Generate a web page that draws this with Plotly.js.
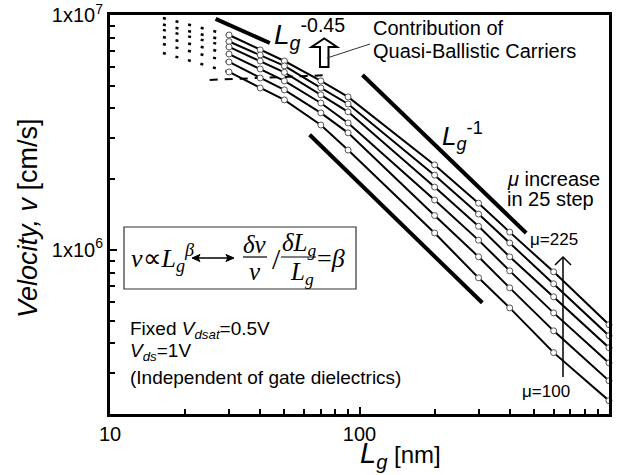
<!DOCTYPE html>
<html>
<head>
<meta charset="utf-8">
<script src="https://cdn.plot.ly/plotly-3.0.1.min.js"></script>
<style>html,body{margin:0;padding:0;background:#fff;}#chart{width:629px;height:475px;}</style>
</head>
<body>
<div id="chart"></div>
<script>
// ---- data ----
const Lg = [30, 40, 50, 70, 90, 200, 300, 400, 600, 1000];
const v_mu225 = [8.22e6, 7.10e6, 6.37e6, 5.24e6, 4.48e6, 2.30e6, 1.58e6, 1.19e6, 8.06e5, 4.80e5];
const v_mu200 = [7.71e6, 6.76e6, 6.07e6, 4.89e6, 4.18e6, 2.08e6, 1.42e6, 1.07e6, 7.17e5, 4.31e5];
const v_mu175 = [7.31e6, 6.37e6, 5.70e6, 4.57e6, 3.87e6, 1.85e6, 1.26e6, 9.34e5, 6.31e5, 3.83e5];
const v_mu150 = [6.82e6, 5.89e6, 5.24e6, 4.22e6, 3.47e6, 1.63e6, 1.10e6, 8.14e5, 5.39e5, 3.30e5];
const v_mu125 = [6.31e6, 5.39e6, 4.80e6, 3.83e6, 3.15e6, 1.40e6, 9.34e5, 6.89e5, 4.52e5, 2.77e5];
const v_mu100 = [5.72e6, 4.89e6, 4.35e6, 3.40e6, 2.66e6, 1.18e6, 7.60e5, 5.66e5, 3.65e5, 2.28e5];
const series = [v_mu225, v_mu200, v_mu175, v_mu150, v_mu125, v_mu100];

// dotted extrapolation toward short gate length (left end value per curve)
const dotL = [16.3, 30];
const dotLeftV = [9.71e6, 9.11e6, 8.64e6, 8.06e6, 7.53e6, 6.89e6];

// guide lines
const g045_L = [26.5, 43.7];  const g045_v = [9.62e6, 7.60e6];
const g1a_L = [102.8, 465.6]; const g1a_v = [5.55e6, 1.18e6];
const g1b_L = [63.1, 310.5];  const g1b_v = [3.09e6, 5.95e5];
const dash_L = [25.1, 75.9];  const dash_v = [5.29e6, 5.55e6];

const xTickVals = [10, 100, 1000];
const xTickText = ['10', '100', '1000'];
const xMinor = [20,30,40,50,60,70,80,90,200,300,400,500,600,700,800,900];
const yTickVals = [1e6, 1e7];
const yTickText = ['1x10<sup>6</sup>', '1x10<sup>7</sup>'];
const yMinor = [3e5,4e5,5e5,6e5,7e5,8e5,9e5,2e6,3e6,4e6,5e6,6e6,7e6,8e6,9e6];

// ---- helpers: pixel -> paper ----
const L0 = 110, R0 = 609, T0 = 15, B0 = 414;
const PX = x => (x - L0) / (R0 - L0);
const PY = y => (B0 - y) / (B0 - T0);
const SANS = 'Liberation Sans, Arial, sans-serif';
const SERIF = 'Liberation Serif, Times New Roman, serif';

const traces = [];
function guide(x, y, w, dash) {
  traces.push({x: x, y: y, mode: 'lines', line: {color: 'black', width: w, dash: dash || 'solid'}, hoverinfo: 'skip', cliponaxis: false});
}
guide(g045_L, g045_v, 4);
guide(g1a_L, g1a_v, 4);
guide(g1b_L, g1b_v, 4);
guide(dash_L, dash_v, 2, '8px,7px');
series.forEach((s, i) => {
  traces.push({x: dotL, y: [dotLeftV[i], s[0]], mode: 'lines',
    line: {color: 'black', width: 2.5, dash: '3px,10px'}, hoverinfo: 'skip', cliponaxis: false});
});
series.forEach(s => {
  traces.push({x: Lg, y: s, mode: 'lines+markers', cliponaxis: false,
    line: {color: 'black', width: 2},
    marker: {symbol: 'circle', size: 6, color: 'white', line: {color: '#555', width: 1}}});
});

function ann(text, x, y, o) {
  return Object.assign({text: text, xref: 'paper', yref: 'paper', x: PX(x), y: PY(y),
    xanchor: 'left', yanchor: 'middle', showarrow: false, borderpad: 0,
    font: {family: SANS, size: 20, color: 'black'}}, o || {});
}
const annotations = [
  ann('<i>Velocity, v</i> [cm/s]', 28, 218, {xanchor: 'center', textangle: -90, font: {family: SANS, size: 27, color: 'black'}}),
  ann('<i>L</i><sub><i>g</i></sub><span style="font-size:24px"> [nm]</span>', 400, 455, {xanchor: 'center', font: {family: SANS, size: 29, color: 'black'}}),
  ann('<i>L</i><sub><i>g</i></sub><sup>-0.45</sup>', 273, 34, {font: {family: SANS, size: 28, color: 'black'}}),
  ann('Contribution of', 372, 28),
  ann('Quasi-Ballistic Carriers', 372, 51),
  ann('<i>L</i><sub><i>g</i></sub><sup>-1</sup>', 441, 136, {font: {family: SANS, size: 26, color: 'black'}}),
  ann('<i>μ</i> increase', 506, 179),
  ann('in 25 step', 506, 199),
  ann('μ=225', 529, 239, {font: {family: SANS, size: 17, color: 'black'}}),
  ann('μ=100', 521, 391, {font: {family: SANS, size: 17, color: 'black'}}),
  ann('Fixed <i>V</i><sub><i>dsat</i></sub>=0.5V', 129, 330, {font: {family: SANS, size: 19, color: 'black'}}),
  ann('<i>V</i><sub><i>ds</i></sub>=1V', 129, 352, {font: {family: SANS, size: 19, color: 'black'}}),
  ann('(Independent of gate dielectrics)', 129, 377, {font: {family: SANS, size: 19, color: 'black'}}),
  // formula
  ann('<i>v</i>∝<i>L</i><sub><i>g</i></sub><sup><i>β</i></sup>', 130, 258, {font: {family: SERIF, size: 26, color: 'black'}}),
  ann('<i>δv</i>', 255, 244, {xanchor: 'center', font: {family: SERIF, size: 25, color: 'black'}}),
  ann('<i>v</i>', 255, 271, {xanchor: 'center', font: {family: SERIF, size: 25, color: 'black'}}),
  ann('/', 276, 258, {xanchor: 'center', font: {family: SERIF, size: 30, color: 'black'}}),
  ann('<i>δL</i><sub><i>g</i></sub>', 299, 244, {xanchor: 'center', font: {family: SERIF, size: 25, color: 'black'}}),
  ann('<i>L</i><sub><i>g</i></sub>', 302, 273, {xanchor: 'center', font: {family: SERIF, size: 25, color: 'black'}}),
  ann('=<i>β</i>', 316, 258, {font: {family: SERIF, size: 26, color: 'black'}})
];

function pth(pts, close) {
  return pts.map((p, i) => (i ? 'L' : 'M') + PX(p[0]).toFixed(5) + ',' + PY(p[1]).toFixed(5)).join(' ') + (close ? ' Z' : '');
}
function pline(x0, y0, x1, y1, w, c) {
  return {type: 'line', xref: 'paper', yref: 'paper', x0: PX(x0), y0: PY(y0), x1: PX(x1), y1: PY(y1), line: {color: c || 'black', width: w}};
}
const shapes = [
  // hollow arrow
  {type: 'path', xref: 'paper', yref: 'paper', fillcolor: 'white', line: {color: 'black', width: 2},
   path: pth([[320,67],[320,47],[311.5,47],[324.3,38.5],[337,47],[328.5,47],[328.5,67]], true)},
  pline(327, 58, 370, 44, 1, '#333'),
  // vertical mobility arrow
  pline(563, 377, 563, 257.5, 1.5),
  {type: 'path', xref: 'paper', yref: 'paper', line: {color: 'black', width: 1.5},
   path: pth([[555,265],[563,257],[571,265]], false)},
  // formula box
  {type: 'rect', xref: 'paper', yref: 'paper', x0: PX(124), x1: PX(356), y0: PY(289), y1: PY(227), line: {color: '#333', width: 1.2}},
  // double arrow
  pline(194, 258, 232, 258, 1.5),
  {type: 'path', xref: 'paper', yref: 'paper', fillcolor: 'black', line: {color: 'black', width: 1},
   path: pth([[192,258],[200,254.5],[198,258],[200,261.5]], true)},
  {type: 'path', xref: 'paper', yref: 'paper', fillcolor: 'black', line: {color: 'black', width: 1},
   path: pth([[234,258],[226,254.5],[228,258],[226,261.5]], true)},
  // fraction bars
  pline(243, 257, 267, 257, 1.2),
  pline(281, 257, 316, 257, 1.2)
];

const axisCommon = {
  type: 'log', showgrid: false, zeroline: false, showline: true, mirror: true,
  linecolor: 'black', linewidth: 3, ticks: 'inside', ticklen: 7, tickwidth: 2, tickcolor: 'black',
  tickfont: {family: SANS, size: 20, color: 'black'}, tickmode: 'array'
};
const layout = {
  width: 629, height: 475,
  margin: {l: L0, r: 629 - R0, t: T0, b: 475 - B0},
  paper_bgcolor: 'white', plot_bgcolor: 'white', showlegend: false,
  xaxis: Object.assign({}, axisCommon, {range: [1, 3], tickvals: xTickVals, ticktext: xTickText,
    minor: {tickmode: 'array', tickvals: xMinor, ticks: 'inside', ticklen: 5, tickwidth: 2, tickcolor: 'black', showgrid: false}}),
  yaxis: Object.assign({}, axisCommon, {range: [Math.log10(2e5), 7], tickvals: yTickVals, ticktext: yTickText,
    minor: {tickmode: 'array', tickvals: yMinor, ticks: 'inside', ticklen: 5, tickwidth: 2, tickcolor: 'black', showgrid: false}}),
  annotations: annotations, shapes: shapes
};
Plotly.newPlot('chart', traces, layout, {staticPlot: true, displayModeBar: false});
</script>
</body>
</html>
